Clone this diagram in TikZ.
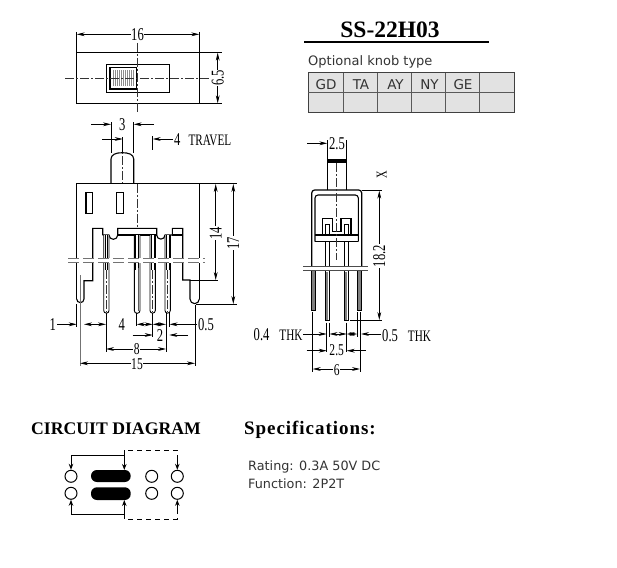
\documentclass[tikz,border=0pt]{standalone}
\usepackage{fontspec}
\usetikzlibrary{arrows.meta}
\setmainfont{Liberation Serif}
\newfontfamily\condf[FakeStretch=0.7]{Liberation Serif}
\newfontfamily\labf{DejaVu Sans}
\definecolor{cellgrey}{HTML}{E2E2E2}
\definecolor{inkgrey}{HTML}{333333}
\tikzset{
  ol/.style={draw=black,line width=1.1pt},
  thin dim/.style={draw=black,line width=0.65pt},
  dimline/.style={thin dim,{Stealth[length=8pt,width=3.8pt]}-{Stealth[length=8pt,width=3.8pt]}},
  arrr/.style={thin dim,-{Stealth[length=8pt,width=3.8pt]}},
  center line/.style={draw=black!80,line width=0.55pt,dash pattern=on 9pt off 2pt on 2pt off 2pt},
  dimtext/.style={font=\condf\fontsize{18}{18}\selectfont,inner sep=0.5pt,fill=white},
  labtext/.style={font=\condf\fontsize{16}{16}\selectfont,inner sep=0pt,anchor=west},
  sanstext/.style={font=\labf\fontsize{12.8}{14}\selectfont,text=inkgrey,inner sep=0pt,anchor=west},
  cellt/.style={font=\labf\fontsize{13.5}{14}\selectfont,text=inkgrey,inner sep=0pt},
  term/.style={circle,draw=black,line width=1pt,minimum size=12pt,inner sep=0pt},
  pill/.style={rounded corners=5.9pt,fill=black,draw=none},
  ctl/.style={draw=black,line width=1pt},
  ctip/.style={ctl,-{Stealth[length=6pt,width=4.5pt]}},
  ctipd/.style={ctl,dash pattern=on 5pt off 4pt},
}
\begin{document}
\begin{tikzpicture}[x=1pt,y=-1pt]
\useasboundingbox[fill=white] (0,0) rectangle (617,567);

% ---------- top view
\draw[ol] (76.7,52.7) rectangle (199.3,103.3);
\draw[ol] (106.3,64.3) rectangle (169.3,92.3);
\draw[ol,fill=white] (110,67.3) rectangle (136.7,89);
\fill[black!45] (113,70) rectangle (134,86.5);
\foreach \x in {114.5,116.5,...,132.5} \draw[white,line width=0.6pt] (\x,70.5) -- (\x,86);
\draw[center line] (65,78.3) -- (210,78.3);
\draw[center line] (137.3,43) -- (137.3,112);
\draw[thin dim] (76.7,32) -- (76.7,52.7) (199.3,32) -- (199.3,52.7);
\draw[dimline] (76.7,34.3) -- (199.3,34.3);
\node[dimtext] (d16) at (137.5,34.3) {16};
\draw[thin dim] (199.3,52.7) -- (222,52.7) (199.3,103.3) -- (222,103.3);
\draw[dimline] (217.7,52.7) -- (217.7,103.3);
\node[dimtext,rotate=90] (d65) at (217.7,78) {6.5};

% ---------- front view: knob
\draw[ol] (111,183.5) -- (111,159) .. controls (111,154.5) and (116,152.7) .. (122.3,152.7)
  .. controls (128.7,152.7) and (133.7,154.5) .. (133.7,159) -- (133.7,183.5);
\draw[center line] (122.5,141) -- (122.5,183);
\draw[thin dim] (111,122) -- (111,153) (133.7,122) -- (133.7,153);
\draw[arrr] (91,124.3) -- (111,124.3);
\draw[arrr] (154,124.3) -- (133.7,124.3);
\node[dimtext,fill=none] (d3) at (122.3,125) {3};
\draw[thin dim] (122.7,137) -- (122.7,153);
\draw[arrr] (102,139) -- (122.7,139);
\draw[thin dim] (152.7,136) -- (152.7,150);
\draw[arrr] (173,139) -- (152.7,139);
\node[labtext] (trav) at (174,140) {\fontsize{18}{18}\selectfont 4\hspace{8pt}\fontsize{16}{16}\selectfont TRAVEL};

% ---------- front view: body
\draw[ol] (76.7,299) -- (76.7,183.7) -- (199.3,183.7) -- (199.3,299);
\draw[ol] (76.7,299) arc[start angle=180,end angle=0,radius=3.65] -- (84,280.7) -- (92.7,280.7) -- (92.7,228.3)
  -- (102.7,228.3) -- (102.7,235);
\draw[ol] (102.7,235) -- (109,235) arc[start angle=180,end angle=0,radius=4.35] -- (117.7,228.3) -- (156.7,228.3) -- (156.7,235)
  arc[start angle=180,end angle=0,radius=4.15] -- (165,235) -- (172.3,235) -- (172.3,228.3) -- (182.7,228.3) -- (182.7,280) -- (190,280) -- (190,299)
  arc[start angle=180,end angle=0,radius=4.65];
\draw[ol] (117.7,235) -- (156.7,235);
\draw[ol] (172.3,235) -- (182.7,235);
\draw[ol] (86,192.7) rectangle (92.7,213.3);
\draw[ol] (116.3,192.7) rectangle (123.3,213.3);
\draw[center line] (137.3,183.7) -- (137.3,228);
% pins
\foreach \a/\b/\r in {103.7/109/2.65,134.3/140/2.85,150/155.3/2.65,165/170.3/2.65}{
  \draw[ol,line width=0.9pt,fill=white] (\a,235) -- (\a,310.5) arc[start angle=180,end angle=0,radius=\r] -- (\b,235);
  \draw[line width=0.55pt] ({\a+1.4},235) -- ({\a+1.4},270) ({\b-1.4},235) -- ({\b-1.4},270);
}
\draw[line width=1.3pt,black!65] (138.6,268) -- (138.6,311);
\draw[center line] (106.3,270) -- (106.3,312) (152.6,270) -- (152.6,312) (167.6,270) -- (167.6,312);
% break
\fill[white] (68,257.5) rectangle (205,263);
\draw[line width=0.55pt,black!55,dash pattern=on 11pt off 4pt] (68,258) -- (205,258) (68,262.5) -- (205,262.5);
% leg centre marks
\draw[thin dim,draw=black!55] (80,275) -- (80,366);
\draw[thin dim] (195,305) -- (195,366);

% dims right
\draw[thin dim] (199.3,183.7) -- (237,183.7) (190,280) -- (218,280) (196,304) -- (237,304);
\draw[dimline] (215.7,184) -- (215.7,280);
\node[dimtext,rotate=90] (d14) at (215.7,233) {14};
\draw[dimline] (233.3,184) -- (233.3,304);
\node[dimtext,rotate=90] (d17) at (233.3,243) {17};

% dims below
\draw[thin dim] (106,313) -- (106,352) (136.7,313) -- (136.7,326) (152.7,313) -- (152.7,337)
  (166,313) -- (166,352) (169.3,313) -- (169.3,327) (76.7,304) -- (76.7,327);
\node[dimtext,fill=none] (d1) at (52.7,325) {1};
\draw[arrr] (57,324.3) -- (76.7,324.3);
\draw[dimline] (84,324.3) -- (106,324.3);
\node[dimtext,fill=none] (d4) at (121.7,325) {4};
\draw[dimline] (136.7,324.3) -- (152.7,324.3);
\draw[dimline] (152.7,324.3) -- (166,324.3);
\draw[arrr] (197,324.3) -- (169.5,324.3);
\node[dimtext,fill=none] (d05) at (206,325) {0.5};
\draw[arrr] (132.7,335) -- (152.7,335);
\draw[arrr] (188,335) -- (169.3,335);
\node[dimtext] (d2) at (160,336) {2};
\draw[dimline] (106,349) -- (166,349);
\node[dimtext,font=\condf\fontsize{16.5}{16.5}\selectfont] (d8) at (136.7,349) {8};
\draw[dimline] (80,363.3) -- (195,363.3);
\node[dimtext,font=\condf\fontsize{16.5}{16.5}\selectfont] (d15) at (137,364.5) {15};

% ---------- side view
\draw[ol] (327.3,190) -- (327.3,159.3) -- (346.7,159.3) -- (346.7,190);
\fill[black] (327.3,159.3) rectangle (346.7,162.5);
\draw[ol,rounded corners=3pt,line width=1.2pt] (311.7,266.7) -- (311.7,190) -- (361.7,190) -- (361.7,266.7);
\draw[ol,rounded corners=3pt] (315,241.7) -- (315,195) -- (358.3,195) -- (358.3,241.7);
\draw[ol] (315,235) -- (358.3,235) (315,241.7) -- (358.3,241.7);
\draw[ol] (322.3,235) -- (322.3,218.3) -- (332.3,218.3) -- (332.3,231.7) -- (341,231.7) -- (341,218.3) -- (351,218.3) -- (351,235);
\draw[ol,line width=0.9pt] (325.3,235) -- (325.3,224.3) -- (329.3,224.3) -- (329.3,235);
\draw[ol,line width=0.9pt] (344.3,235) -- (344.3,224.3) -- (348.3,224.3) -- (348.3,235);
\draw[center line] (336.7,163) -- (336.7,260);
\foreach \a in {325.3,344.3}{
  \draw[ol,line width=0.9pt] (\a,241.7) -- (\a,320.7) -- ({\a+4},320.7) -- ({\a+4},241.7);
  \fill[black!50] ({\a+1},272) rectangle ({\a+3},320);
}
\draw[ol,line width=0.9pt,fill=black!50] (311.5,270) rectangle (315.7,310.7);
\draw[ol,line width=0.9pt,fill=black!50] (357,270) rectangle (361.7,310.7);
\fill[white] (303,267) rectangle (368.3,270);
\draw[line width=0.55pt,black!70] (303,266.7) -- (368.3,266.7) (303,270) -- (368.3,270);
\draw[thin dim] (327.3,140) -- (327.3,159.3) (346.7,140) -- (346.7,159.3);
\draw[arrr] (307,143.3) -- (327.3,143.3);
\node[dimtext,fill=none] (s25a) at (337,143.5) {2.5};
\node[font=\condf\fontsize{15}{15}\selectfont,rotate=90,inner sep=0pt] (sx) at (381.7,175) {X};
\draw[thin dim] (361.7,190.3) -- (381.7,190.3) (350,320) -- (381.7,320);
\draw[dimline] (379.3,190.7) -- (379.3,320);
\node[dimtext,rotate=90] (s182) at (379.3,256) {18.2};
% side dims below
\draw[thin dim] (326.7,322.5) -- (326.7,352) (346.7,322.5) -- (346.7,352) (357.3,312) -- (357.3,337)
  (312.7,312) -- (312.7,372) (360,312) -- (360,372) (329.5,322.5) -- (329.5,337);
\node[labtext] (s04) at (253.5,335) {\fontsize{18}{18}\selectfont 0.4\hspace{10pt}\fontsize{16}{16}\selectfont THK};
\draw[arrr] (303,334) -- (326.7,334);
\draw[dimline] (329.5,334) -- (346.7,334);
\draw[dimline] (346.7,334) -- (357.3,334);
\draw[arrr] (381,334) -- (361,334);
\node[labtext] (s05) at (382,336) {\fontsize{18}{18}\selectfont 0.5\hspace{10pt}\fontsize{16}{16}\selectfont THK};
\draw[arrr] (306.7,350.7) -- (326.7,350.7);
\draw[arrr] (365.7,350.7) -- (346.7,350.7);
\node[dimtext,font=\condf\fontsize{16.5}{16.5}\selectfont] (s25b) at (336.7,350.5) {2.5};
\draw[dimline] (312.7,369) -- (360,369);
\node[dimtext,font=\condf\fontsize{16.5}{16.5}\selectfont] (s6) at (336.7,370) {6};

% ---------- title + table
\node[font=\fontsize{23.5}{24}\selectfont\bfseries,inner sep=0pt] (title) at (390,30) {SS-22H03};
\draw[line width=1.8pt] (304,41.7) -- (489,41.7);
\node[sanstext,font=\labf\fontsize{13}{14}\selectfont] (opt) at (308,62) {Optional knob type};
\fill[cellgrey] (308.3,72.7) rectangle (514,112.3);
\draw[line width=0.9pt,black!75] (308.3,72.7) rectangle (514,112.3);
\draw[line width=0.6pt,black!65] (308.3,92.7) -- (514,92.7);
\foreach \x in {343.3,377.7,411.7,445.7,479.3}
  \draw[line width=0.6pt,black!65] (\x,72.7) -- (\x,112.3);
\node[cellt] (c1) at (326,85) {GD};
\node[cellt] (c2) at (361,85) {TA};
\node[cellt] (c3) at (395.5,85) {AY};
\node[cellt] (c4) at (429.5,85) {NY};
\node[cellt] (c5) at (463,85) {GE};

% ---------- circuit
\node[font=\fontsize{17.7}{18}\selectfont\bfseries,inner sep=0pt] (circ) at (116,429) {CIRCUIT DIAGRAM};
\node[font=\fontsize{19}{20}\selectfont\bfseries,inner sep=0pt,anchor=west] (spec) at (244,430) {\addfontfeature{LetterSpace=5}Specifications:};
\node[sanstext] (rate) at (248,467) {Rating: 0.3A 50V DC};
\node[sanstext] (func) at (248,484) {Function: 2P2T};
\node[term] (t1) at (71,476.3) {};
\node[term] (t2) at (71,493.3) {};
\node[term] (t3) at (151.7,476.3) {};
\node[term] (t4) at (151.7,493.3) {};
\node[term] (t5) at (177.3,476.3) {};
\node[term] (t6) at (177.3,493.3) {};
\fill[pill] (91,470) rectangle (130.7,482);
\fill[pill] (91,487.3) rectangle (130.7,500);
\coordinate (ptop) at (124.3,470);
\coordinate (pbot) at (124.3,500);
\coordinate (a) at (71,455);
\coordinate (b) at (124.3,455);
\coordinate (c) at (71,514);
\coordinate (d) at (124.3,514);
\coordinate (e) at (124.3,450);
\coordinate (f) at (177.3,450);
\coordinate (g) at (124.3,519);
\coordinate (h) at (177.3,519);
\draw[ctl] (a) -- (b);
\draw[ctip] (a) -- (t1.north);
\draw[ctip] (b) -- (ptop);
\draw[ctl] (c) -- (d);
\draw[ctip] (c) -- (t2.south);
\draw[ctip] (d) -- (pbot);
\draw[ctipd] (b) -- (e) -- (f) -- ++(0,8);
\draw[ctip] (177.3,458) -- (t5.north);
\draw[ctipd] (d) -- (g) -- (h) -- ++(0,-8);
\draw[ctip] (177.3,511) -- (t6.south);
\end{tikzpicture}
\end{document}
